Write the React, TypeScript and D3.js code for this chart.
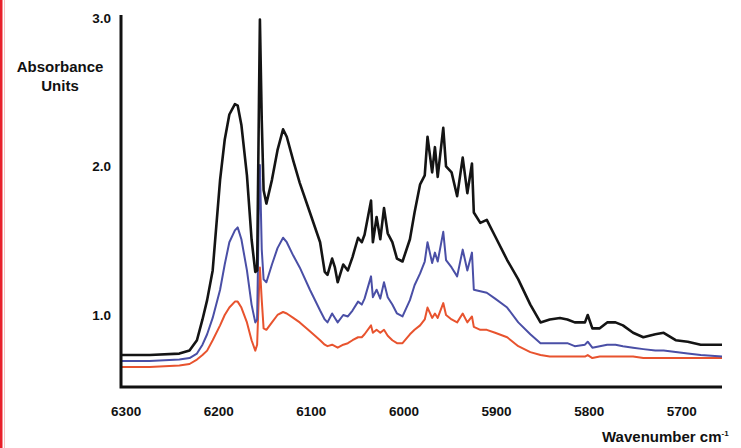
import React, { useEffect, useRef } from 'react';
import * as d3 from 'd3';

// wavenumber (cm-1), shared by the three spectra
const wavenumbers = [
  6305, 6274, 6242, 6231, 6223, 6217, 6212, 6206, 6198, 6193, 6188, 6182, 6179, 6175, 6169, 6164,
  6160, 6158, 6156, 6155, 6153, 6151, 6148, 6142, 6136, 6130, 6126, 6119, 6112, 6101, 6090, 6085,
  6082, 6077, 6074, 6071, 6065, 6060, 6055, 6049, 6045, 6042, 6035, 6033, 6029, 6025, 6021, 6017,
  6012, 6007, 6001, 5993, 5988, 5982, 5977, 5974, 5969, 5966, 5963, 5957, 5954, 5948, 5942, 5936,
  5931, 5926, 5924, 5917, 5910, 5901, 5888, 5876, 5863, 5852, 5842, 5831, 5823, 5815, 5804, 5801,
  5796, 5788, 5780, 5771, 5763, 5752, 5741, 5728, 5719, 5706, 5693, 5679, 5656,
];

const blackSeries = [
  0.73, 0.73, 0.74, 0.76, 0.83, 0.97, 1.1, 1.3, 1.91, 2.18,
  2.35, 2.42, 2.41, 2.28, 1.94, 1.51, 1.29, 1.3, 2.45, 2.99,
  2.31, 1.84, 1.75, 1.91, 2.11, 2.25, 2.2, 2.04, 1.89, 1.69,
  1.49, 1.29, 1.27, 1.38, 1.32, 1.22, 1.34, 1.3, 1.39, 1.52,
  1.49, 1.54, 1.77, 1.49, 1.66, 1.51, 1.72, 1.55, 1.49, 1.38,
  1.36, 1.51, 1.69, 1.88, 1.94, 2.2, 1.96, 2.13, 1.93, 2.26,
  2.0, 1.96, 1.8, 2.06, 1.82, 2.02, 1.69, 1.62, 1.64, 1.53,
  1.37, 1.24, 1.07, 0.95, 0.97, 0.98, 0.97, 0.95, 0.95, 1.0,
  0.91, 0.91, 0.95, 0.95, 0.93, 0.88, 0.85, 0.87, 0.88, 0.83,
  0.82, 0.8, 0.8,
];

const blueSeries = [
  0.69, 0.69, 0.7, 0.71, 0.74, 0.8, 0.87, 0.98, 1.17, 1.34,
  1.49, 1.57, 1.59, 1.51, 1.3, 1.07, 0.95, 0.97, 1.77, 2.01,
  1.44, 1.24, 1.22, 1.34, 1.45, 1.52, 1.49, 1.4, 1.32, 1.17,
  1.03, 0.97, 0.95, 1.01, 0.98, 0.95, 1.0, 0.99, 1.03, 1.09,
  1.07, 1.11, 1.26, 1.12, 1.17, 1.11, 1.22, 1.12, 1.07, 1.01,
  0.99, 1.1, 1.2, 1.28, 1.36, 1.49, 1.35, 1.42, 1.36, 1.56,
  1.37, 1.32, 1.26, 1.44, 1.3, 1.42, 1.17, 1.16, 1.15, 1.11,
  1.05, 0.95, 0.87, 0.81, 0.81, 0.81, 0.81, 0.79, 0.8, 0.82,
  0.78, 0.79, 0.8, 0.8, 0.79, 0.78, 0.77, 0.76, 0.76, 0.75,
  0.74, 0.73, 0.72,
];

const redSeries = [
  0.65, 0.65, 0.66, 0.67, 0.7, 0.73, 0.76, 0.83, 0.93, 1.0,
  1.05, 1.09, 1.09, 1.05, 0.95, 0.83, 0.76, 0.8, 1.17, 1.32,
  1.1, 0.91, 0.9, 0.95, 1.0, 1.02, 1.01, 0.98, 0.95, 0.89,
  0.83, 0.8, 0.79, 0.8, 0.79, 0.78, 0.8, 0.81, 0.83, 0.85,
  0.85, 0.87, 0.93, 0.88, 0.9, 0.88, 0.9, 0.86, 0.83, 0.81,
  0.81, 0.87, 0.9, 0.93, 0.97, 1.05, 0.98, 1.01, 0.98, 1.08,
  1.0, 0.97, 0.95, 1.01, 0.95, 0.99, 0.92, 0.9, 0.9, 0.88,
  0.85, 0.79, 0.75, 0.73, 0.72, 0.72, 0.72, 0.72, 0.72, 0.73,
  0.71, 0.72, 0.72, 0.72, 0.72, 0.72, 0.71, 0.71, 0.71, 0.71,
  0.71, 0.71, 0.71,
];

const xTicks = [6300, 6200, 6100, 6000, 5900, 5800, 5700];
const yTicks = [1.0, 2.0, 3.0];

const series = [
  { name: 'red', values: redSeries, color: '#e8532e', width: 2 },
  { name: 'blue', values: blueSeries, color: '#4a4fa6', width: 2 },
  { name: 'black', values: blackSeries, color: '#141414', width: 2.6 },
];

const App: React.FC = () => {
  const chartRef = useRef<SVGSVGElement>(null);

  useEffect(() => {
    const svg = d3.select(chartRef.current);
    svg.selectAll('*').remove();

    const width = 741;
    const height = 448;
    const left = 121;
    const right = 722;
    const top = 15;
    const bottom = 387;
    const font = "'Liberation Sans', Arial, sans-serif";

    svg.append('rect').attr('width', width).attr('height', height).attr('fill', '#fff');

    // red frame edge on the left
    svg.append('rect').attr('x', 0).attr('y', 0).attr('width', 2.5).attr('height', height).attr('fill', '#e8202a');
    svg.append('line').attr('x1', 4.5).attr('x2', 4.5).attr('y1', 0).attr('y2', height)
      .attr('stroke', '#f7c0c0').attr('stroke-width', 1);

    const xScale = d3.scaleLinear().domain([6305, 5656]).range([left, right]);
    const yScale = d3.scaleLinear().domain([0.515, 3.02]).range([bottom, top]);

    const line = d3
      .line<number>()
      .x((_, i) => xScale(wavenumbers[i]))
      .y((d) => yScale(d))
      .curve(d3.curveLinear);

    series.forEach((s) => {
      svg
        .append('path')
        .datum(s.values)
        .attr('d', line)
        .attr('fill', 'none')
        .attr('stroke', s.color)
        .attr('stroke-width', s.width)
        .attr('stroke-linejoin', 'round');
    });

    // x axis labels
    const xAxis = svg
      .append('g')
      .attr('transform', `translate(0, ${bottom + 16})`)
      .call(d3.axisBottom(xScale).tickValues(xTicks).tickSize(0).tickFormat(d3.format('d')));
    xAxis.select('.domain').remove();
    xAxis.selectAll('text')
      .attr('fill', '#111')
      .style('font-family', font)
      .style('font-size', '13.5px')
      .style('font-weight', 'bold');

    // y axis labels
    const yAxis = svg
      .append('g')
      .attr('transform', `translate(${left - 10}, 0)`)
      .call(d3.axisLeft(yScale).tickValues(yTicks).tickSize(0).tickFormat(d3.format('.1f')));
    yAxis.select('.domain').remove();
    yAxis.selectAll('text')
      .attr('x', 0)
      .attr('fill', '#111')
      .style('font-family', font)
      .style('font-size', '13.5px')
      .style('font-weight', 'bold');

    // axis lines
    svg.append('path')
      .attr('d', `M${left},${top}V${bottom}H${right}`)
      .attr('fill', 'none')
      .attr('stroke', '#111')
      .attr('stroke-width', 3);

    // titles
    const yTitle = svg.append('text')
      .attr('text-anchor', 'middle')
      .attr('fill', '#111')
      .style('font-family', font)
      .style('font-size', '15px')
      .style('font-weight', 'bold');
    yTitle.append('tspan').attr('x', 60).attr('y', 72).text('Absorbance');
    yTitle.append('tspan').attr('x', 60).attr('y', 91).text('Units');

    const xTitle = svg.append('text')
      .attr('x', 602)
      .attr('y', 442)
      .attr('fill', '#111')
      .style('font-family', font)
      .style('font-size', '15px')
      .style('font-weight', 'bold');
    xTitle.append('tspan').text('Wavenumber cm');
    xTitle.append('tspan').attr('dy', -6).style('font-size', '8px').text('-1');
  }, []);

  return (
    <svg
      ref={chartRef}
      width={741}
      height={448}
      viewBox="0 0 741 448"
      style={{ position: 'absolute', left: 0, top: 0, display: 'block' }}
    ></svg>
  );
};

export default App;
